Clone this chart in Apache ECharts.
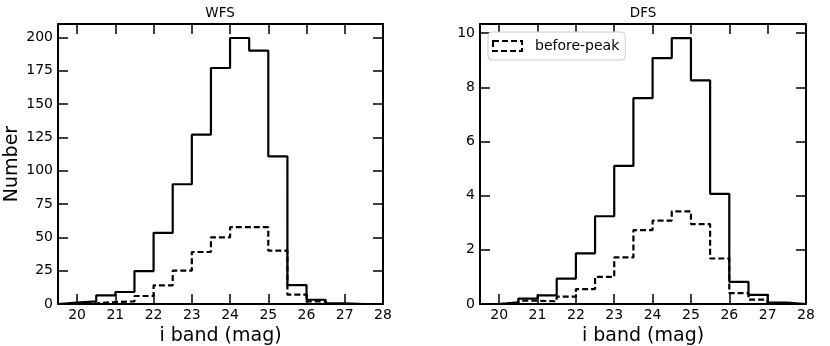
<!DOCTYPE html>
<html>
<head>
<meta charset="utf-8">
<script src="https://cdn.jsdelivr.net/npm/echarts@6/dist/echarts.min.js"></script>
<style>
  html, body { margin: 0; padding: 0; background: #fff; }
  #chart { width: 830px; height: 346px; }
</style>
</head>
<body>
<div id="chart"></div>
<script>
// histogram bin edges (i band, mag)
const binEdges = [19.5, 20, 20.5, 21, 21.5, 22, 22.5, 23, 23.5, 24, 24.5, 25, 25.5, 26, 26.5, 27, 27.5, 28];
// WFS counts per bin
const wfsAll = [1, 2, 6.5, 9, 24.7, 53.4, 89.8, 127, 177, 199.5, 190, 110.7, 14.2, 3.2, 0.5, 0, 0];
const wfsBefore = [0, 0.5, 1.5, 2, 6, 14, 25, 39, 50, 57.6, 57.6, 40, 7, 2, 0, 0, 0];
// DFS counts per bin
const dfsAll = [0, 0.06, 0.2, 0.32, 0.94, 1.87, 3.24, 5.1, 7.6, 9.08, 9.82, 8.26, 4.07, 0.82, 0.34, 0.05, 0];
const dfsBefore = [0, 0.02, 0.12, 0.1, 0.27, 0.55, 1.0, 1.72, 2.73, 3.08, 3.42, 2.95, 1.68, 0.4, 0.16, 0, 0];
// tick labels
const xTicks = [20, 21, 22, 23, 24, 25, 26, 27, 28];
const wfsTicks = [0, 25, 50, 75, 100, 125, 150, 175, 200];
const dfsTicks = [0, 2, 4, 6, 8, 10];

const font = 'DejaVu Sans';

// turn bin counts into step outline points
function stepData(counts) {
    const pts = [[binEdges[0], 0]];
    counts.forEach((c, i) => pts.push([binEdges[i], c]));
    pts.push([binEdges[binEdges.length - 1], counts[counts.length - 1]]);
    pts.push([binEdges[binEdges.length - 1], 0]);
    return pts;
}

const chart = echarts.init(document.getElementById('chart'));

function xAxis(grid, pos, main) {
    return {
        type: 'value', gridIndex: grid, position: pos,
        min: 19.5, max: 28,
        splitLine: { show: false },
        axisLine: { show: true, onZero: false, lineStyle: { color: '#000', width: 2 } },
        axisTick: { show: true, inside: true, length: 10, customValues: xTicks, lineStyle: { color: '#000', width: 1.5 } },
        axisLabel: { show: main, customValues: xTicks, margin: 4, color: '#000', fontFamily: font, fontSize: 14 },
        name: main ? 'i band (mag)' : '', nameLocation: 'middle', nameGap: 20,
        nameTextStyle: { color: '#000', fontFamily: font, fontSize: 19 }
    };
}

function yAxis(grid, pos, max, ticks, name) {
    const main = pos === 'left';
    return {
        type: 'value', gridIndex: grid, position: pos,
        min: 0, max: max,
        splitLine: { show: false },
        axisLine: { show: true, onZero: false, lineStyle: { color: '#000', width: 2 } },
        axisTick: { show: true, inside: true, length: 10, customValues: ticks, lineStyle: { color: '#000', width: 1.5 } },
        axisLabel: { show: main, customValues: ticks, margin: 5, color: '#000', fontFamily: font, fontSize: 14 },
        name: main ? name : '', nameLocation: 'middle', nameGap: 36,
        nameTextStyle: { color: '#000', fontFamily: font, fontSize: 19 }
    };
}

const option = {
    animation: false,
    backgroundColor: '#fff',
    title: [
        { text: 'WFS', left: 220, top: 6, textAlign: 'center', padding: 0,
          textStyle: { fontFamily: font, fontSize: 13.5, fontWeight: 'normal', color: '#000' } },
        { text: 'DFS', left: 643, top: 6, textAlign: 'center', padding: 0,
          textStyle: { fontFamily: font, fontSize: 13.5, fontWeight: 'normal', color: '#000' } }
    ],
    legend: {
        data: ['before-peak'],
        left: 488, top: 32,
        orient: 'vertical',
        icon: 'rect',
        itemWidth: 29, itemHeight: 10,
        padding: [7, 6, 7, 4],
        borderColor: '#ccc', borderWidth: 1, borderRadius: 4,
        backgroundColor: '#fff',
        itemStyle: { color: 'rgba(0,0,0,0)', borderColor: '#000', borderWidth: 2, borderType: [6, 3] },
        textStyle: { color: '#000', fontFamily: font, fontSize: 14, padding: [0, 0, 0, 8] }
    },
    grid: [
        { left: 58, top: 24, width: 325, height: 280, outerBoundsMode: 'none', containLabel: false },
        { left: 480, top: 24, width: 326, height: 280, outerBoundsMode: 'none', containLabel: false }
    ],
    xAxis: [
        xAxis(0, 'bottom', true), xAxis(0, 'top', false),
        xAxis(1, 'bottom', true), xAxis(1, 'top', false)
    ],
    yAxis: [
        yAxis(0, 'left', 210, wfsTicks, 'Number'), yAxis(0, 'right', 210, wfsTicks),
        yAxis(1, 'left', 10.34, dfsTicks, ''), yAxis(1, 'right', 10.34, dfsTicks)
    ],
    series: [
        { name: 'all', type: 'line', xAxisIndex: 0, yAxisIndex: 0, step: 'end', symbol: 'none',
          lineStyle: { color: '#000', width: 2.2 }, data: stepData(wfsAll) },
        { name: 'before-peak WFS', type: 'line', xAxisIndex: 0, yAxisIndex: 0, step: 'end', symbol: 'none',
          lineStyle: { color: '#000', width: 2.2, type: [6, 3] }, data: stepData(wfsBefore) },
        { name: 'all DFS', type: 'line', xAxisIndex: 2, yAxisIndex: 2, step: 'end', symbol: 'none',
          lineStyle: { color: '#000', width: 2.2 }, data: stepData(dfsAll) },
        { name: 'before-peak', type: 'line', xAxisIndex: 2, yAxisIndex: 2, step: 'end', symbol: 'none',
          itemStyle: { color: '#000' },
          lineStyle: { color: '#000', width: 2.2, type: [6, 3] }, data: stepData(dfsBefore) }
    ]
};

chart.setOption(option);
</script>
</body>
</html>
